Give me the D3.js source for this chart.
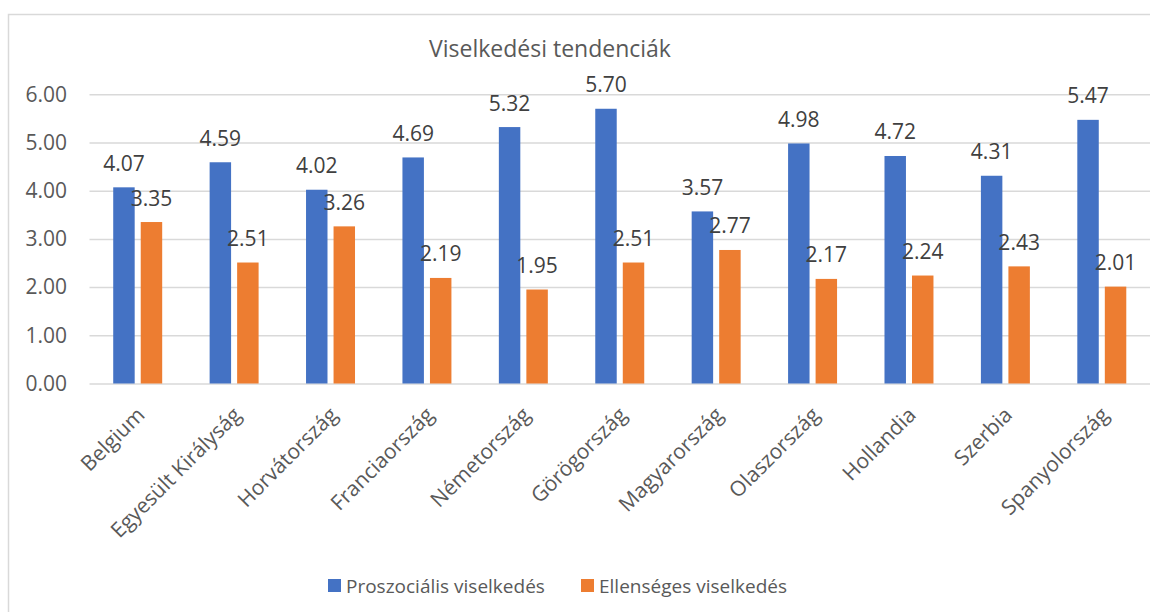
<!DOCTYPE html>
<html>
<head>
<meta charset="utf-8">
<script src="https://cdn.jsdelivr.net/npm/d3@7"></script>
<style>
  body { margin: 0; background: #fff; }
  svg text { font-family: "Open Sans", "Noto Sans", sans-serif; }
</style>
</head>
<body>
<div class="graph"></div>
<script>
// data
var countries = ["Belgium", "Egyesült Királyság", "Horvátország", "Franciaország", "Németország",
    "Görögország", "Magyarország", "Olaszország", "Hollandia", "Szerbia", "Spanyolország"];
var seriesNames = ["Proszociális viselkedés", "Ellenséges viselkedés"];
var proszocialis = [4.07, 4.59, 4.02, 4.69, 5.32, 5.70, 3.57, 4.98, 4.72, 4.31, 5.47];
var ellenseges = [3.35, 2.51, 3.26, 2.19, 1.95, 2.51, 2.77, 2.17, 2.24, 2.43, 2.01];
var yTicks = [0, 1, 2, 3, 4, 5, 6];
var colors = ["#4472C4", "#ED7D31"];

var W = 1155, H = 612;
var plot = {left: 89.5, right: 1150, top: 94.3, bottom: 383.5};

var svg = d3.select(".graph").append("svg")
    .attr("width", W)
    .attr("height", H);

// chart border (only top and left visible in the shot)
svg.append("path")
    .attr("d", "M8.5," + (H + 5) + "V14.5H1150")
    .attr("fill", "none")
    .attr("stroke", "#d9d9d9")
    .attr("stroke-width", 1.5);

var x = d3.scaleBand().domain(countries).range([plot.left, plot.right]);
var xSub = d3.scaleBand().domain(seriesNames).range([0, x.bandwidth()])
    .paddingInner(0.22).paddingOuter(0.862);
var y = d3.scaleLinear().domain([0, 6]).range([plot.bottom, plot.top]);

// gridlines
svg.append("g")
    .attr("class", "grid")
    .attr("transform", "translate(" + plot.left + ",0)")
    .call(d3.axisLeft(y).tickValues(yTicks).tickSize(-(plot.right - plot.left)).tickFormat(""))
    .call(function(g) { g.select(".domain").remove(); })
    .selectAll("line")
    .attr("stroke", "#d9d9d9")
    .attr("stroke-width", 1.5);

// y axis labels
var yAxis = svg.append("g")
    .attr("transform", "translate(67,0)")
    .call(d3.axisLeft(y).tickValues(yTicks).tickSize(0).tickPadding(0).tickFormat(d3.format(".2f")));
yAxis.select(".domain").remove();
yAxis.selectAll("text")
    .attr("fill", "#595959")
    .style("font-size", "21px");

var data = countries.map(function(c, i) {
    return {country: c, values: [proszocialis[i], ellenseges[i]]};
});

var group = svg.selectAll(".country")
    .data(data)
    .enter()
    .append("g")
    .attr("class", "country")
    .attr("transform", function(d) { return "translate(" + x(d.country) + ",0)"; });

group.selectAll("rect")
    .data(function(d) { return d.values.map(function(v, j) { return {s: seriesNames[j], v: v, j: j}; }); })
    .enter()
    .append("rect")
    .attr("x", function(d) { return xSub(d.s); })
    .attr("width", xSub.bandwidth())
    .attr("y", function(d) { return y(d.v); })
    .attr("height", function(d) { return y(0) - y(d.v); })
    .attr("fill", function(d) { return colors[d.j]; });

// value labels
group.selectAll("text")
    .data(function(d) { return d.values.map(function(v, j) { return {s: seriesNames[j], v: v}; }); })
    .enter()
    .append("text")
    .attr("x", function(d) { return xSub(d.s) + xSub.bandwidth() / 2; })
    .attr("y", function(d) { return y(d.v) - 16.5; })
    .attr("text-anchor", "middle")
    .attr("fill", "#404040")
    .style("font-size", "21px")
    .text(function(d) { return d3.format(".2f")(d.v); });

// category labels, rotated
svg.append("g")
    .selectAll("text")
    .data(countries)
    .enter()
    .append("text")
    .attr("transform", function(d) {
        return "translate(" + (x(d) + x.bandwidth() / 2 + 3) + ",411)rotate(-45)";
    })
    .attr("text-anchor", "end")
    .attr("dy", "0.35em")
    .attr("fill", "#595959")
    .style("font-size", "21px")
    .text(function(d) { return d; });

// title
svg.append("text")
    .attr("x", 550)
    .attr("y", 57)
    .attr("text-anchor", "middle")
    .attr("fill", "#595959")
    .style("font-size", "23px")
    .text("Viselkedési tendenciák");

// legend
var legendX = [328, 581];
var legend = svg.selectAll(".legend")
    .data(seriesNames)
    .enter()
    .append("g")
    .attr("class", "legend")
    .attr("transform", function(d, i) { return "translate(" + legendX[i] + ",579)"; });

legend.append("rect")
    .attr("width", 13)
    .attr("height", 13)
    .attr("fill", function(d, i) { return colors[i]; });

legend.append("text")
    .attr("x", 18)
    .attr("y", 14)
    .attr("fill", "#595959")
    .style("font-size", "19px")
    .text(function(d) { return d; });
</script>
</body>
</html>
